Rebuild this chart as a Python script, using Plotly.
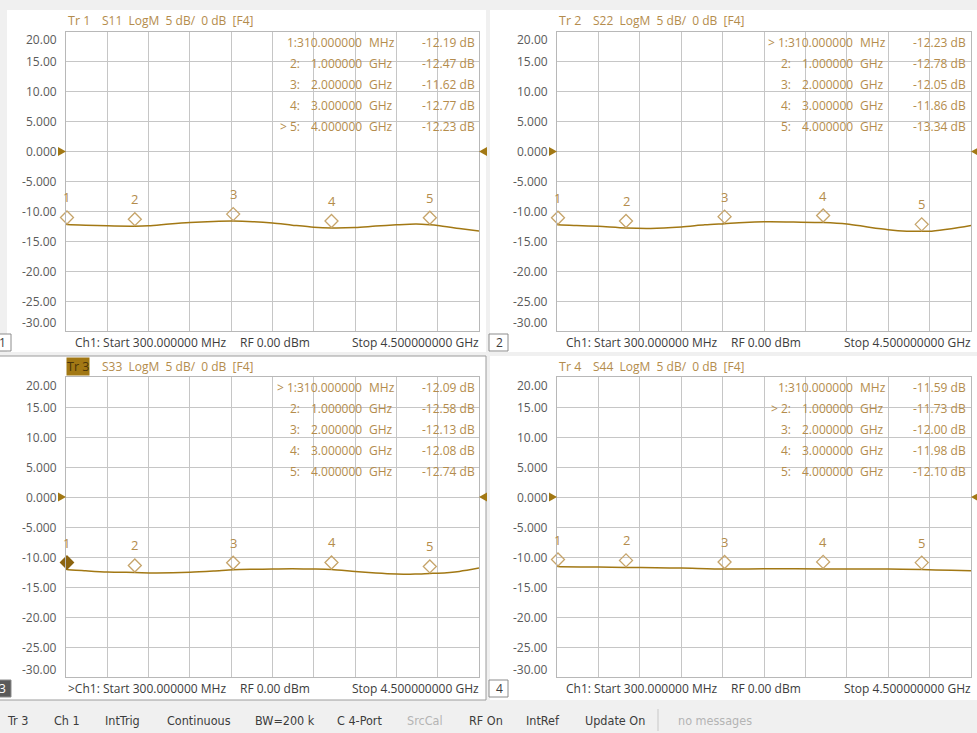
import plotly.graph_objects as go

W, H = 977, 733
FONT = "Open Sans, Noto Sans, DejaVu Sans, sans-serif"
NARROW = "Liberation Sans Narrow, DejaVu Sans Condensed, Roboto, sans-serif"

TRACE_COLOR = "#a27814"
MARK_COLOR = "#c6a46a"
LABEL_COLOR = "#b48c4c"
TICK_COLOR = "#5a5a5a"
TEXT_COLOR = "#3c3c3c"
GRID_COLOR = "#c6c6c6"

# ---- swept traces: frequency (GHz) and magnitude (dB) ----
s11_freq = [0.30, 0.31, 0.50, 0.72, 1.00, 1.14, 1.35, 1.56, 1.80, 2.00, 2.20, 2.40,
            2.60, 2.82, 3.00, 3.24, 3.45, 3.66, 3.86, 4.00, 4.08, 4.30, 4.50]
s11_db = [-12.15, -12.19, -12.30, -12.42, -12.47, -12.40, -12.10, -11.85, -11.68, -11.62,
          -11.72, -11.95, -12.30, -12.65, -12.77, -12.70, -12.45, -12.25, -12.12, -12.23,
          -12.35, -12.85, -13.30]

s22_freq = [0.30, 0.31, 0.50, 0.72, 1.00, 1.25, 1.56, 1.80, 2.00, 2.20, 2.45, 2.70,
            3.00, 3.24, 3.45, 3.66, 3.85, 4.00, 4.10, 4.30, 4.50]
s22_db = [-12.20, -12.23, -12.35, -12.50, -12.78, -12.85, -12.60, -12.25, -12.05, -11.85,
          -11.72, -11.78, -11.86, -12.10, -12.60, -13.05, -13.30, -13.34, -13.30, -12.90,
          -12.35]

s33_freq = [0.30, 0.31, 0.50, 0.72, 1.00, 1.20, 1.56, 1.80, 2.00, 2.20, 2.40, 2.60,
            2.80, 3.00, 3.24, 3.45, 3.66, 3.85, 4.00, 4.08, 4.30, 4.50]
s33_db = [-12.05, -12.09, -12.30, -12.50, -12.58, -12.65, -12.55, -12.35, -12.13, -12.05,
          -12.00, -11.95, -12.00, -12.08, -12.40, -12.65, -12.82, -12.85, -12.74, -12.70,
          -12.40, -11.85]

s44_freq = [0.30, 0.31, 0.72, 1.00, 1.30, 1.56, 2.00, 2.40, 3.00, 3.66, 4.00, 4.30, 4.50]
s44_db = [-11.55, -11.59, -11.68, -11.73, -11.80, -11.85, -12.00, -11.97, -11.98, -12.02,
          -12.10, -12.22, -12.30]

# ---- markers ----
marker_freq = [0.31, 1.0, 2.0, 3.0, 4.0]
marker_num_text = ["310.000000", "1.000000", "2.000000", "3.000000", "4.000000"]
marker_unit_text = ["MHz", "GHz", "GHz", "GHz", "GHz"]
s11_marker_db = [-12.19, -12.47, -11.62, -12.77, -12.23]
s22_marker_db = [-12.23, -12.78, -12.05, -11.86, -13.34]
s33_marker_db = [-12.09, -12.58, -12.13, -12.08, -12.74]
s44_marker_db = [-11.59, -11.73, -12.00, -11.98, -12.10]

# ---- axis ----
y_tick_vals = [20, 15, 10, 5, 0, -5, -10, -15, -20, -25, -30]
y_tick_text = ["20.00", "15.00", "10.00", "5.000", "0.000", "-5.000",
               "-10.00", "-15.00", "-20.00", "-25.00", "-30.00"]
f_start, f_stop, f_div = 0.3, 4.5, 0.42

# panel layout in pixels: plot left, right, top, bottom
panels = [
    dict(tr="Tr 1", par="S11", freq=s11_freq, db=s11_db, mk=s11_marker_db, active=4,
         box=(66, 479, 32, 331), bg=(7, 486, 10, 352), chan="1", sel=False),
    dict(tr="Tr 2", par="S22", freq=s22_freq, db=s22_db, mk=s22_marker_db, active=0,
         box=(557, 971, 32, 331), bg=(490, 980, 10, 352), chan="2", sel=False),
    dict(tr="Tr 3", par="S33", freq=s33_freq, db=s33_db, mk=s33_marker_db, active=0,
         box=(66, 479, 377, 677), bg=(-2, 486, 356, 700), chan="3", sel=True),
    dict(tr="Tr 4", par="S44", freq=s44_freq, db=s44_db, mk=s44_marker_db, active=1,
         box=(557, 971, 377, 677), bg=(490, 980, 356, 700), chan="4", sel=False),
]

status_items = [
    ("Tr 3", 5, TEXT_COLOR), ("Ch 1", 52, TEXT_COLOR), ("IntTrig", 103, TEXT_COLOR),
    ("Continuous", 165, TEXT_COLOR), ("BW=200 k", 253, TEXT_COLOR),
    ("C 4-Port", 335, TEXT_COLOR), ("SrcCal", 405, "#b4b4b4"), ("RF On", 467, TEXT_COLOR),
    ("IntRef", 524, TEXT_COLOR), ("Update On", 583, TEXT_COLOR),
    ("no messages", 676, "#b4b4b4"),
]


def px(x):
    return x / W


def py(y):
    return 1 - y / H


def ann(x, y, text, xanchor="left", size=12, color=TEXT_COLOR, family=FONT, **kw):
    return dict(xref="paper", yref="paper", x=px(x), y=py(y), text=text,
                showarrow=False, xanchor=xanchor, yanchor="middle",
                font=dict(family=family, size=size, color=color), **kw)


fig = go.Figure()
annotations = []
shapes = []
layout_axes = {}

for i, p in enumerate(panels):
    n = "" if i == 0 else str(i + 1)
    xr, yr = "x" + n, "y" + n
    x0, x1, y0, y1 = p["box"]

    common = dict(showgrid=True, gridcolor=GRID_COLOR, gridwidth=1, zeroline=False,
                  showline=True, mirror=True, linecolor="#b8b8b8", linewidth=1,
                  ticks="", showticklabels=False, fixedrange=True)
    layout_axes["xaxis" + n] = dict(domain=[px(x0), px(x1)], range=[f_start, f_stop],
                                    tick0=f_start, dtick=f_div, anchor=yr, **common)
    layout_axes["yaxis" + n] = dict(domain=[py(y1), py(y0)], range=[-30, 20],
                                    tick0=0, dtick=5, anchor=xr, **common)

    # panel background
    bx0, bx1, by0, by1 = p["bg"]
    shapes.append(dict(type="rect", xref="paper", yref="paper", layer="below",
                       x0=px(bx0), x1=px(bx1), y0=py(by1), y1=py(by0),
                       fillcolor="white",
                       line=dict(color="#9c9c9c" if p["sel"] else "rgba(0,0,0,0)", width=1)))

    # trace
    fig.add_trace(go.Scatter(x=p["freq"], y=p["db"], xaxis=xr, yaxis=yr, mode="lines",
                             line=dict(color=TRACE_COLOR, width=1.5, shape="spline",
                                       smoothing=0.8),
                             hoverinfo="skip"))

    # marker diamonds, sitting just above the trace point
    filled = [p["sel"] and k == p["active"] for k in range(len(marker_freq))]
    fig.add_trace(go.Scatter(
        x=marker_freq, y=p["mk"], xaxis=xr, yaxis=yr, mode="markers", cliponaxis=False,
        marker=dict(symbol=["diamond" if f else "diamond-open" for f in filled],
                    size=10, angle=180, standoff=7,
                    color=["#8c6410" if f else MARK_COLOR for f in filled],
                    line=dict(width=1.3,
                              color=["#8c6410" if f else MARK_COLOR for f in filled])),
        hoverinfo="skip"))

    for k, (f, v) in enumerate(zip(marker_freq, p["mk"])):
        annotations.append(dict(xref=xr, yref=yr, x=f, y=v, yshift=27, text=str(k + 1),
                                showarrow=False, xanchor="center", yanchor="middle",
                                font=dict(family=FONT, size=13, color=LABEL_COLOR)))

    # 0 dB reference arrows on both sides
    shapes.append(dict(type="path", xref=xr + " domain", yref=yr, xsizemode="pixel",
                       ysizemode="pixel", xanchor=0, yanchor=0,
                       path="M -8,4.5 L 0,0 L -8,-4.5 Z", fillcolor=TRACE_COLOR,
                       line=dict(width=0)))
    shapes.append(dict(type="path", xref=xr + " domain", yref=yr, xsizemode="pixel",
                       ysizemode="pixel", xanchor=1, yanchor=0,
                       path="M 8,4.5 L 0,0 L 8,-4.5 Z", fillcolor=TRACE_COLOR,
                       line=dict(width=0)))

    # y tick labels
    for val, lab in zip(y_tick_vals, y_tick_text):
        shift = -8 if val == 20 else (8 if val == -30 else 0)
        annotations.append(dict(xref=xr + " domain", yref=yr, x=0, y=val, xshift=-7,
                                yshift=shift, text=lab, showarrow=False,
                                xanchor="right", yanchor="middle",
                                font=dict(family=FONT, size=12, color=TICK_COLOR)))

    # trace header
    hy = y0 - 11
    if p["sel"]:
        annotations.append(ann(x0, hy, p["tr"], size=12.5, color="#4a3408",
                               bgcolor="#a27814", borderpad=0))
    else:
        annotations.append(ann(x0, hy, p["tr"], size=12.5, color=LABEL_COLOR))
    annotations.append(ann(x0 + 34, hy, p["par"] + "  LogM  5 dB/  0 dB  [F4]",
                           size=12, color=LABEL_COLOR))

    # marker table
    for k in range(len(marker_freq)):
        ry = y0 + 10.5 + 21 * k
        ident = ("> " if k == p["active"] else "") + str(k + 1) + ":"
        if k == 0:
            annotations.append(ann(x0 + 298, ry, ident + marker_num_text[k],
                                   xanchor="right", color=LABEL_COLOR))
        else:
            annotations.append(ann(x0 + 236, ry, ident, xanchor="right",
                                   color=LABEL_COLOR))
            annotations.append(ann(x0 + 298, ry, marker_num_text[k], xanchor="right",
                                   color=LABEL_COLOR))
        annotations.append(ann(x0 + 301, ry, marker_unit_text[k], xanchor="left",
                               color=LABEL_COLOR))
        annotations.append(ann(x0 + 411, ry, "%.2f dB" % p["mk"][k], xanchor="right",
                               color=LABEL_COLOR))

    # channel footer
    fy = y1 + 11
    annotations.append(ann(x0 + (0 if p["sel"] else 7), fy,
                           (">" if p["sel"] else "") + "Ch1: Start 300.000000 MHz"))
    annotations.append(ann(x0 + 172, fy, "RF 0.00 dBm"))
    annotations.append(ann(x1 + 2, fy, "Stop 4.500000000 GHz", xanchor="right"))

    # channel window number box
    cx = 2 if i % 2 == 0 else 499
    shapes.append(dict(type="rect", xref="paper", yref="paper",
                       x0=px(cx - 10), x1=px(cx + 9), y0=py(y1 + 20), y1=py(y1 + 3),
                       fillcolor="#5a5a5a" if p["sel"] else "white",
                       line=dict(color="#8c8c8c", width=1)))
    annotations.append(ann(cx, y1 + 11.5, p["chan"], xanchor="center",
                           color="white" if p["sel"] else TEXT_COLOR))

# status bar
for text, x, col in status_items:
    annotations.append(ann(x, 720, text, size=12.5, color=col, family=NARROW))
shapes.append(dict(type="line", xref="paper", yref="paper", x0=px(658), x1=px(658),
                   y0=py(731), y1=py(709), line=dict(color="#c8c8c8", width=1)))

fig.update_layout(width=W, height=H, margin=dict(l=0, r=0, t=0, b=0),
                  paper_bgcolor="#f0f0f0", plot_bgcolor="white", showlegend=False,
                  annotations=annotations, shapes=shapes, **layout_axes)

fig.write_html("out.html")
